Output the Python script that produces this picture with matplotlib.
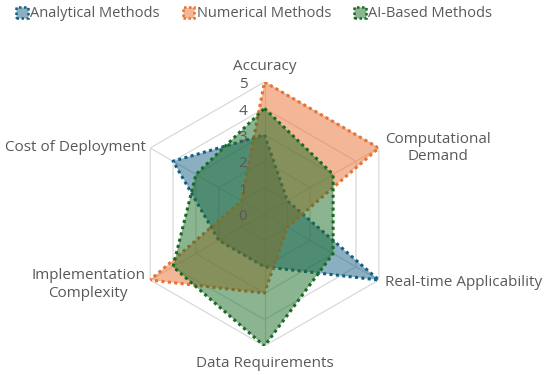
import numpy as np
import matplotlib
matplotlib.use("Agg")
import matplotlib.pyplot as plt
from matplotlib.patches import Patch

categories = ["Accuracy", "Computational\nDemand", "Real-time Applicability",
              "Data Requirements", "Implementation\nComplexity", "Cost of Deployment"]
series_names = ["Analytical Methods", "Numerical Methods", "AI-Based Methods"]
analytical = [3, 1, 5, 2, 2, 4]
numerical = [5, 5, 1, 3, 5, 1]
ai_based = [4, 3, 3, 5, 4, 3]
r_ticks = [0, 1, 2, 3, 4, 5]

colors = ["#156082", "#E97132", "#196B24"]
text_color = "#595959"
grid_color = "#D9D9D9"

plt.rcParams['font.family'] = ['Open Sans', 'DejaVu Sans']

fig = plt.figure(figsize=(5.5, 3.75), dpi=100)
W, H = 550, 375
cx, cy, R = 264.5, 214.0, 132.0
ax = fig.add_axes([(cx - R) / W, (H - cy - R) / H, 2 * R / W, 2 * R / H], projection='polar')
ax.set_theta_offset(np.pi / 2)
ax.set_theta_direction(-1)
ax.set_ylim(0, 5)
ax.grid(False)
ax.spines['polar'].set_visible(False)
ax.set_xticks([])
ax.set_yticks([])
ax.patch.set_alpha(0)

n = len(categories)
angles = np.arange(n) * 2 * np.pi / n
closed = np.concatenate([angles, angles[:1]])

# hexagonal grid
for r in r_ticks[1:]:
    ax.plot(closed, [r] * (n + 1), color=grid_color, lw=0.9, zorder=1)
for a in angles:
    ax.plot([a, a], [0, r_ticks[-1]], color=grid_color, lw=0.9, zorder=1)

all_vals = [analytical, numerical, ai_based]
for i, (vals, col) in enumerate(zip(all_vals, colors)):
    v = list(vals) + [vals[0]]
    ax.fill(closed, v, color=col, alpha=0.5, lw=0, zorder=2 + 2 * i)
    ax.plot(closed, v, color=col, lw=2.2, linestyle=(0, (1, 1.1)),
            dash_capstyle='butt', zorder=3 + 2 * i)

# value labels
for r in r_ticks:
    ax.annotate(str(r), xy=(0, r), xytext=(-15.5, -2), textcoords='offset points',
                ha='center', va='center', fontsize=11, color=text_color, zorder=10)

# category labels
label_cfg = [
    (0, 11.5, 'center', 'center'),
    (4.5, 0, 'left', 'center'),
    (4.5, -2, 'left', 'center'),
    (0, -12.5, 'center', 'center'),
    (-3.5, -3.5, 'right', 'center'),
    (-3, 0.5, 'right', 'center'),
]
for a, lab, (dx, dy, ha, va) in zip(angles, categories, label_cfg):
    ax.annotate(lab, xy=(a, r_ticks[-1]), xytext=(dx, dy), textcoords='offset points',
                ha=ha, va=va, multialignment='center', fontsize=11, color=text_color,
                linespacing=1.25, annotation_clip=False)

handles = [Patch(facecolor=matplotlib.colors.to_rgba(c, 0.5), edgecolor=c, lw=1.8,
                 linestyle=(0, (1, 1))) for c in colors]
fig.legend(handles, series_names, loc='upper center', bbox_to_anchor=(0.462, 1.018),
           ncol=3, frameon=False, fontsize=10.5, labelcolor=text_color,
           handlelength=0.8, handleheight=0.8, handletextpad=0.15, columnspacing=1.6)

fig.savefig("out.png", dpi=100)
